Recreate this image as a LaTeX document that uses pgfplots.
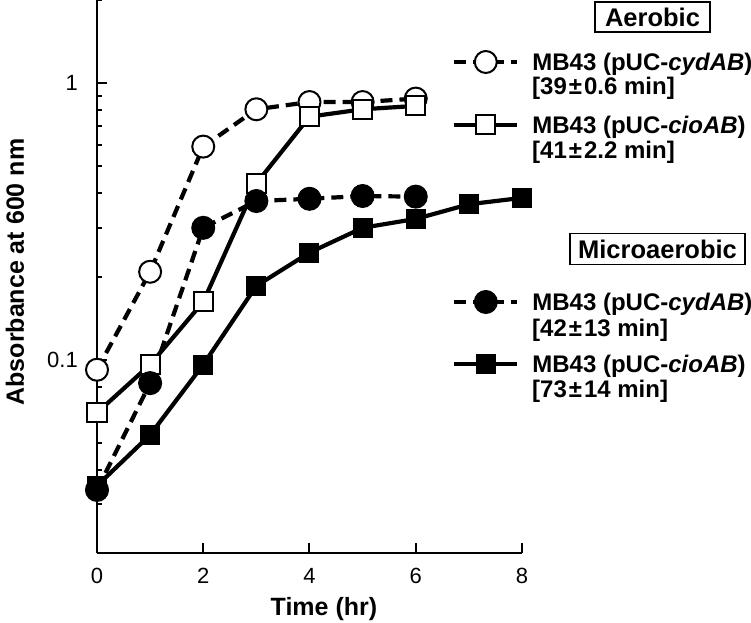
\documentclass[border=0pt]{standalone}
\usepackage{fontspec}
\setmainfont{Liberation Sans}
\usepackage{pgfplots}
\pgfplotsset{compat=1.18}
\newcommand{\lf}{\fontsize{24bp}{28bp}\selectfont\bfseries}
\newcommand{\hf}{\fontsize{25.5bp}{30bp}\selectfont\bfseries}
\newcommand{\af}{\fontsize{25bp}{30bp}\selectfont\bfseries}
\newcommand{\tf}{\fontsize{22bp}{26bp}\selectfont}
\newcommand{\PM}{\hspace{2bp}±\hspace{2bp}}
\pgfplotsset{
  aercyd/.style={black, line width=4.2bp, dash pattern=on 12bp off 7bp, mark=*, mark size=11bp, mark options={solid, fill=white, line width=2bp}},
  aercio/.style={black, line width=4.2bp, mark=square*, mark size=9.5bp, mark options={solid, fill=white, line width=2bp}},
  micyd/.style={black, line width=4.2bp, dash pattern=on 12bp off 7bp, mark=*, mark size=11.5bp, mark options={solid, fill=black, line width=1bp}},
  micio/.style={black, line width=4.2bp, mark=square*, mark size=9.5bp, mark options={solid, fill=black, line width=1bp}},
  legax/.style={hide axis, scale only axis, width=10bp, height=10bp, anchor=west,
    xmin=0, xmax=1, ymin=0, ymax=1,
    legend style={at={(0,0.5)}, anchor=west, draw=none, fill=none, inner sep=0pt, column sep=13bp,
      nodes={inner sep=0pt, text depth=0pt, font=\lf}},
    legend cell align=left,
    legend image code/.code={\draw[mark repeat=2,mark phase=2,##1] plot coordinates {(0bp,0bp) (31.5bp,0bp) (63bp,0bp)};}},
}
\begin{document}
\begin{tikzpicture}
\useasboundingbox (0,0) rectangle (751bp,623bp);
\begin{axis}[
  at={(97bp,70bp)}, anchor=south west,
  scale only axis, width=425bp, height=553bp,
  xmin=0, xmax=8, ymode=log, ymin=0.02, ymax=2,
  clip=false,
  axis lines*=left, axis line style={line width=2.5bp, -},
  xtick={0,2,4,6,8}, xticklabels={0,2,4,6,8},
  ytick={0.1,1}, yticklabels={0.1,1},
  minor ytick={0.02,0.03,0.04,0.05,0.06,0.07,0.08,0.09,0.2,0.3,0.4,0.5,0.6,0.7,0.8,0.9,2},
  tick align=inside,
  major tick length=10bp, minor tick length=5bp,
  tick style={line width=2bp, black},
  /pgf/number format/assume math mode=true,
  ticklabel style={font=\tf},
  yticklabel style={inner sep=0pt, anchor=east, xshift=-19bp},
  xticklabel style={inner sep=0pt, anchor=north, yshift=-15bp},
  xlabel={Time (hr)},
  xlabel style={font=\af, at={(axis description cs:0.534,-0.1121)}, anchor=base},
  ylabel={Absorbance at 600 nm},
  ylabel style={font=\af, at={(axis description cs:-0.1718,0.508)}, anchor=base},
]
\addplot[aercyd] coordinates {(0,0.092) (1,0.208) (2,0.59) (3,0.805) (4,0.855) (5,0.855) (6,0.88)};
\addplot[aercio] coordinates {(0,0.0643) (1,0.096) (2,0.162) (3,0.434) (4,0.757) (5,0.805) (6,0.828)};
\addplot[micyd] coordinates {(0,0.0338) (1,0.0823) (2,0.30) (3,0.375) (4,0.382) (5,0.391) (6,0.389)};
\addplot[micio] coordinates {(0,0.0350) (1,0.0535) (2,0.096) (3,0.185) (4,0.244) (5,0.30) (6,0.323) (7,0.365) (8,0.385)};
\end{axis}
% legends
\begin{axis}[legax, at={(452bp,561bp)}]
\addlegendimage{aercyd}
\addlegendentry{MB43 (pUC-\textit{cydAB})}
\end{axis}
\begin{axis}[legax, at={(452bp,498bp)}]
\addlegendimage{aercio}
\addlegendentry{MB43 (pUC-\textit{cioAB})}
\end{axis}
\begin{axis}[legax, at={(452bp,321bp)}]
\addlegendimage{micyd}
\addlegendentry{MB43 (pUC-\textit{cydAB})}
\end{axis}
\begin{axis}[legax, at={(452bp,259bp)}]
\addlegendimage{micio}
\addlegendentry{MB43 (pUC-\textit{cioAB})}
\end{axis}
\node[anchor=west, inner sep=0pt, font=\lf] at (532bp,535bp) {[39\PM0.6 min]};
\node[anchor=west, inner sep=0pt, font=\lf] at (532bp,471bp) {[41\PM2.2 min]};
\node[anchor=west, inner sep=0pt, font=\lf] at (532bp,293bp) {[42\PM13 min]};
\node[anchor=west, inner sep=0pt, font=\lf] at (532bp,232bp) {[73\PM14 min]};
\node[draw, line width=1.3bp, minimum width=115bp, minimum height=30bp, inner sep=0pt, font=\hf] at (652.5bp,606bp) {Aerobic};
\node[draw, line width=1.3bp, minimum width=175bp, minimum height=31bp, inner sep=0pt, font=\hf] at (657.5bp,374bp) {Microaerobic};
\end{tikzpicture}
\end{document}
